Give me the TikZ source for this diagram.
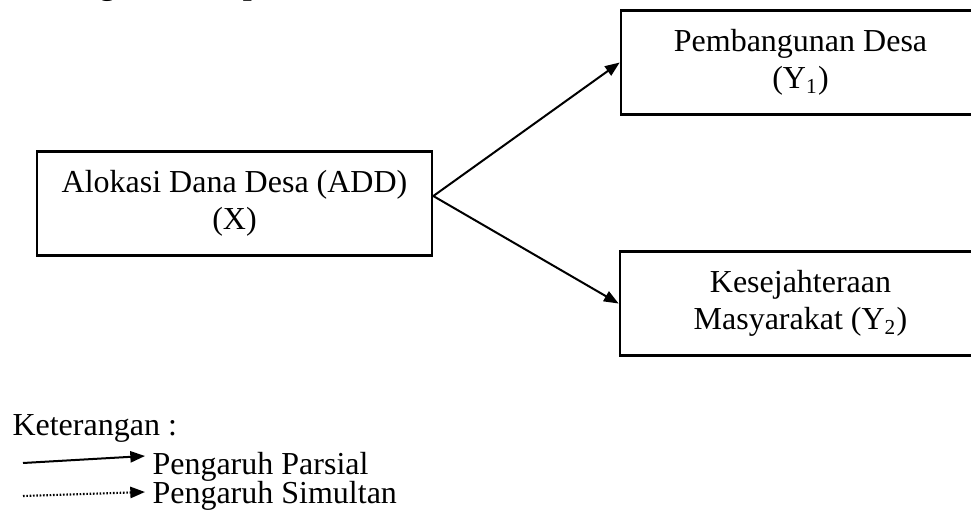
\documentclass[tikz,border=0pt,12pt]{standalone}
\usepackage{fontspec}
\setmainfont{Liberation Serif}
\usetikzlibrary{positioning, arrows.meta}

\begin{document}
\begin{tikzpicture}[
			x=0.375pt, y=-0.375pt,
			>={Triangle[length=5.5pt, width=4.2pt]},
			% Style for the variables (boxes)
			varbox/.style={
				rectangle,
				draw=black,
				line width=1pt,
				minimum height=39.2pt,
				inner sep=0pt,
				align=center,
				font=\fontsize{12}{13.8}\selectfont
			},
			% Style for the influence arrows
			influence/.style={
				->,
				line width=0.75pt
			},
			% Style for the legend texts
			legendtext/.style={
				anchor=base west,
				inner sep=0pt,
				font=\fontsize{12}{13.8}\selectfont
			}
			]
			
			\useasboundingbox (0,0) rectangle (971,518);
			
			% --- TITLE (cut off at the top) ---
			\node[legendtext, font=\fontsize{12}{13.8}\selectfont\bfseries] (title) at (12,-5) {Kerangka Konsep};
			
			% --- NODES (VARIABLES) ---
			\node[varbox, minimum width=148.1pt] (X) at (234.5,203.5) {Alokasi Dana Desa (ADD)\\(X)};
			\node[varbox, minimum width=134.6pt] (Y1) at (800.5,62.5) {Pembangunan Desa\\(Y\textsubscript{1})};
			\node[varbox, minimum width=135.4pt, below=50.2pt of Y1] (Y2) {Kesejahteraan\\Masyarakat (Y\textsubscript{2})};
			
			% --- EDGES (PARTIAL EFFECTS) ---
			\draw[influence] ([yshift=2.8pt]X.east) -- (Y1.west);
			\draw[influence] ([yshift=2.8pt]X.east) -- (Y2.west);
			
			% --- LEGEND ---
			\node[legendtext] (note) at (12,435) {Keterangan :};
			
			\coordinate (parsialStart) at (23,463);
			\coordinate (parsialEnd) at (145,456);
			\draw[influence] (parsialStart) -- (parsialEnd);
			\node[legendtext] (parsial) at (152,474) {Pengaruh Parsial};
			
			\coordinate (simultanStart) at (23,496);
			\coordinate (simultanEnd) at (145,492);
			\draw[influence, line width=0.8pt, dash pattern=on 0.6pt off 0.65pt] (simultanStart) -- (simultanEnd);
			\node[legendtext] (simultan) at (152,503) {Pengaruh Simultan};
			
		\end{tikzpicture}
\end{document}
